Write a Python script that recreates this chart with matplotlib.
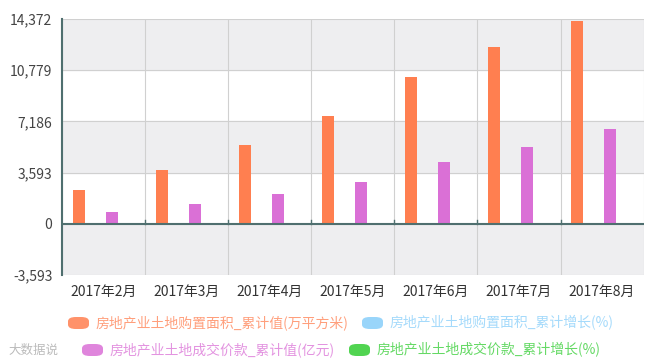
import matplotlib
matplotlib.use("Agg")
import matplotlib.pyplot as plt
from matplotlib.patches import FancyBboxPatch
import numpy as np

plt.rcParams['font.family'] = ['Noto Sans CJK SC', 'DejaVu Sans']

months = ['2017年2月', '2017年3月', '2017年4月', '2017年5月', '2017年6月', '2017年7月', '2017年8月']
area_cum = [2380, 3790, 5540, 7570, 10310, 12410, 14230]
area_growth = [2.3, 8.7, 7.6, 10.7, 10.4, 11.3, 11.8]
price_cum = [840, 1400, 2100, 2950, 4350, 5400, 6660]
price_growth = [16.7, 13.7, 30.8, 38.3, 41.8, 45.3, 48.6]

series = [
    ('房地产业土地购置面积_累计值(万平方米)', area_cum, '#ff7f50'),
    ('房地产业土地购置面积_累计增长(%)', area_growth, '#87cefa'),
    ('房地产业土地成交价款_累计值(亿元)', price_cum, '#da70d6'),
    ('房地产业土地成交价款_累计增长(%)', price_growth, '#32cd32'),
]
yticks = [-3593, 0, 3593, 7186, 10779, 14372]

fig = plt.figure(figsize=(6.55, 3.64), dpi=100)
ax = fig.add_axes([0.0947, 0.2445, 0.888, 0.7035])

x = np.arange(len(months))
offsets = [-0.3, -0.1, 0.1, 0.3]
for (name, vals, color), off in zip(series, offsets):
    ax.bar(x + off, vals, width=0.145, color=color, zorder=3)

ax.set_xlim(-0.5, len(months) - 0.5)
ax.set_ylim(yticks[0], yticks[-1])

# alternating background bands
for i in range(len(yticks) - 1):
    if i % 2 == 0:
        ax.axhspan(yticks[i], yticks[i + 1], color='#eeeef0', zorder=0)
for yv in yticks:
    ax.axhline(yv, color='#d0d0d0', lw=0.8, zorder=1)
for xv in np.arange(-0.5, len(months) + 0.5):
    ax.axvline(xv, color='#d0d0d0', lw=0.8, zorder=1)
ax.axhline(0, color='#4f6f6f', lw=1.5, zorder=4)
# little ticks on the zero line at the category boundaries
for xv in np.arange(0.5, len(months) - 0.5):
    ax.plot([xv, xv], [0, 250], color='#4f6f6f', lw=1, zorder=4)

ax.set_yticks(yticks)
ax.set_yticklabels([f'{v:,}' for v in yticks], fontsize=10, color='#444444')
ax.set_xticks(x)
ax.set_xticklabels(months, fontsize=10, color='#333333')
ax.tick_params(axis='both', length=0)
ax.tick_params(axis='x', pad=7)
ax.tick_params(axis='y', pad=7)
for side in ['top', 'right', 'bottom']:
    ax.spines[side].set_visible(False)
ax.spines['left'].set_color('#4f6f6f')
ax.spines['left'].set_linewidth(1.5)

# legend, laid out like the original two rows
legend_pos = [(68, 323), (362, 323), (82, 350), (349, 350)]
W, H = 655.0, 364.0
for (name, vals, color), (px, py) in zip(series, legend_pos):
    box = FancyBboxPatch((px / W, 1 - (py + 6) / H), 21 / W, 12 / H,
                         boxstyle='round,pad=0,rounding_size=0.012',
                         transform=fig.transFigure, facecolor=color,
                         edgecolor='none', alpha=0.85)
    fig.patches.append(box)
    fig.text((px + 28) / W, 1 - py / H, name, fontsize=10, color=color,
             alpha=0.75, va='center', ha='left')

fig.text(8 / W, 1 - 350 / H, '大数据说', fontsize=9, color='#bbbbbb',
         va='center', ha='left')

fig.savefig('out.png', dpi=100)
